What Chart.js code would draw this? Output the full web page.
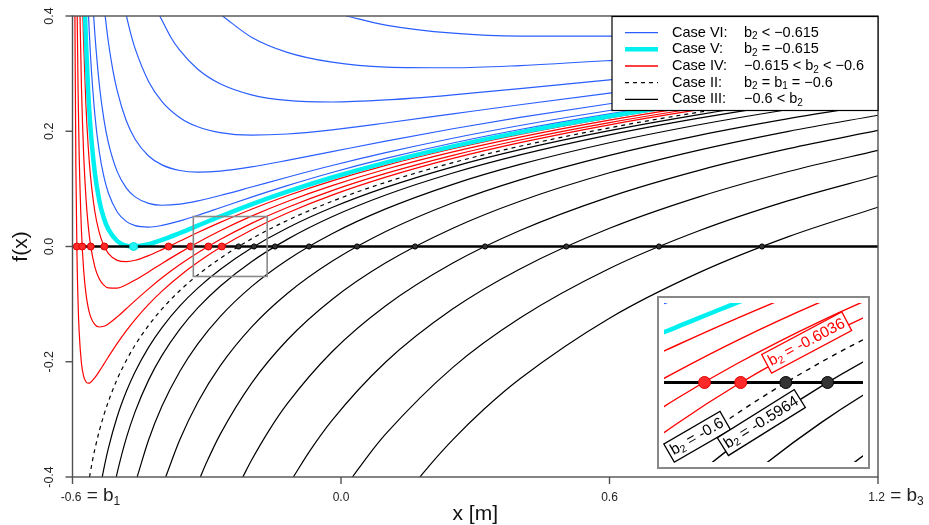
<!DOCTYPE html>
<html><head><meta charset="utf-8">
<script src="https://cdn.jsdelivr.net/npm/chart.js@4.4.1/dist/chart.umd.min.js"></script>
<style>
html,body{margin:0;padding:0;background:#fff;}
#wrap{position:relative;width:929px;height:525px;overflow:hidden;}
#main{position:absolute;left:0;top:0;}
#inset{position:absolute;left:657px;top:296px;}
</style></head><body>
<div id="wrap"><canvas id="main" width="929" height="525"></canvas><canvas id="inset" width="213" height="173"></canvas></div>
<script>
// ---------------- data ----------------
const xTicks = [-0.6, 0.0, 0.6, 1.2];
const yTicks = [-0.4, -0.2, 0.0, 0.2, 0.4];
const yTickLabels = ['-0.4', '-0.2', '0.0', '0.2', '0.4'];

// Case VI (b2 < -0.615), blue
const blueA = [[-0.5642,0.4],[-0.56,0.3341],[-0.55,0.2283],[-0.54,0.1636],[-0.53,0.1216],[-0.52,0.0932],[-0.5,0.0599],[-0.48,0.0436],[-0.46,0.0361],[-0.43,0.0336],[-0.4,0.0366],[-0.36,0.0444],[-0.32,0.0542],[-0.27,0.0673],[-0.2,0.0857],[-0.12,0.1056],[-0.02,0.1284],[0.1,0.1528],[0.25,0.1796],[0.4,0.203],[0.6,0.2302],[0.8,0.2538],[1.0,0.2746],[1.2,0.2933]];
const blueB = [[-0.5527,0.4],[-0.55,0.3683],[-0.54,0.2803],[-0.53,0.2216],[-0.52,0.1807],[-0.5,0.1299],[-0.48,0.1019],[-0.46,0.0861],[-0.43,0.0748],[-0.4,0.0716],[-0.36,0.0736],[-0.32,0.0792],[-0.27,0.0885],[-0.2,0.1032],[-0.12,0.1202],[-0.02,0.1405],[0.1,0.1628],[0.25,0.1879],[0.4,0.21],[0.6,0.236],[0.8,0.2588],[1.0,0.279],[1.2,0.2972]];
const blueC = [[-0.527,0.4],[-0.52,0.3557],[-0.51,0.307],[-0.5,0.2699],[-0.48,0.2186],[-0.46,0.1861],[-0.43,0.1571],[-0.4,0.1416],[-0.36,0.1319],[-0.32,0.1292],[-0.27,0.1309],[-0.2,0.1382],[-0.12,0.1494],[-0.02,0.1646],[0.1,0.1828],[0.25,0.2043],[0.4,0.224],[0.6,0.2477],[0.8,0.2688],[1.0,0.2878],[1.2,0.305]];
const blueD = [[-0.4795,0.4],[-0.47,0.3698],[-0.46,0.3433],[-0.43,0.2865],[-0.4,0.2516],[-0.36,0.2236],[-0.32,0.2077],[-0.27,0.1976],[-0.2,0.1932],[-0.12,0.1952],[-0.02,0.2025],[0.1,0.2143],[0.25,0.2302],[0.4,0.246],[0.6,0.266],[0.8,0.2845],[1.0,0.3015],[1.2,0.3172]];
const blueE = [[-0.405,0.4],[-0.38,0.3628],[-0.36,0.3403],[-0.32,0.3077],[-0.27,0.2824],[-0.2,0.2632],[-0.12,0.2535],[-0.02,0.2508],[0.1,0.2543],[0.25,0.2631],[0.4,0.274],[0.6,0.2893],[0.8,0.3045],[1.0,0.319],[1.2,0.3328]];
const blueF = [[-0.265,0.4],[-0.2,0.3632],[-0.12,0.3369],[-0.02,0.3198],[0.1,0.3114],[0.25,0.3102],[0.4,0.314],[0.6,0.3227],[0.8,0.3331],[1.0,0.344],[1.2,0.355]];
const blueG = [[0.0118,0.4],[0.1,0.3843],[0.25,0.3702],[0.4,0.365],[0.6,0.3652],[0.8,0.3695],[1.0,0.3759],[1.2,0.3833]];

// Case V (b2 = -0.615), cyan
const cyanV = [[-0.5719,0.4],[-0.57,0.3569],[-0.565,0.27],[-0.56,0.2079],[-0.55,0.1273],[-0.54,0.0795],[-0.53,0.0494],[-0.52,0.0301],[-0.5,0.0094],[-0.48,0.0015],[-0.4635,0],[-0.46,0.0001],[-0.43,0.0039],[-0.4,0.0114],[-0.36,0.0234],[-0.32,0.0361],[-0.27,0.052],[-0.2,0.0731],[-0.12,0.0951],[-0.02,0.1197],[0.1,0.1456],[0.25,0.1737],[0.4,0.198],[0.6,0.226],[0.8,0.2502],[1.0,0.2715],[1.2,0.2905]];

// Case IV (-0.615 < b2 < -0.6), red
const red1 = [[-0.5946,0.4],[-0.5925,0.142],[-0.59,-0.0142],[-0.5875,-0.099],[-0.585,-0.1497],[-0.58,-0.2025],[-0.575,-0.2254],[-0.57,-0.2347],[-0.565,-0.2372],[-0.56,-0.2359],[-0.55,-0.2277],[-0.54,-0.2164],[-0.53,-0.2041],[-0.52,-0.1918],[-0.5,-0.1681],[-0.48,-0.1464],[-0.46,-0.1267],[-0.43,-0.1005],[-0.4,-0.0774],[-0.36,-0.0506],[-0.32,-0.0273],[-0.27,-0.0018],[-0.2,0.0287],[-0.12,0.0581],[-0.02,0.0891],[0.1,0.1203],[0.25,0.1528],[0.4,0.1802],[0.6,0.2112],[0.8,0.2375],[1.0,0.2604],[1.2,0.2806]];
const red2 = [[-0.5895,0.4],[-0.5875,0.269],[-0.585,0.157],[-0.58,0.0275],[-0.575,-0.0414],[-0.57,-0.0814],[-0.565,-0.1057],[-0.56,-0.1209],[-0.55,-0.1357],[-0.54,-0.1397],[-0.53,-0.1384],[-0.52,-0.1343],[-0.5,-0.1221],[-0.48,-0.1081],[-0.46,-0.0939],[-0.43,-0.0735],[-0.4,-0.0544],[-0.36,-0.0314],[-0.32,-0.0108],[-0.27,0.0121],[-0.2,0.0402],[-0.12,0.0677],[-0.02,0.097],[0.1,0.1268],[0.25,0.1582],[0.4,0.1848],[0.6,0.215],[0.8,0.2408],[1.0,0.2633],[1.2,0.2832]];
const red3 = [[-0.5832,0.4],[-0.58,0.2775],[-0.575,0.1586],[-0.57,0.0853],[-0.565,0.0371],[-0.56,0.0041],[-0.55,-0.0357],[-0.54,-0.0564],[-0.53,-0.067],[-0.52,-0.0718],[-0.5,-0.0721],[-0.48,-0.0664],[-0.46,-0.0581],[-0.43,-0.0441],[-0.4,-0.0294],[-0.36,-0.0106],[-0.32,0.007],[-0.27,0.0273],[-0.2,0.0527],[-0.12,0.0781],[-0.02,0.1056],[0.1,0.134],[0.25,0.1641],[0.4,0.1898],[0.6,0.2192],[0.8,0.2444],[1.0,0.2664],[1.2,0.286]];
const red4 = [[-0.5768,0.4],[-0.575,0.3506],[-0.57,0.2453],[-0.565,0.1743],[-0.56,0.1241],[-0.55,0.0603],[-0.54,0.0236],[-0.53,0.0016],[-0.52,-0.0118],[-0.5,-0.0241],[-0.48,-0.0264],[-0.46,-0.0239],[-0.43,-0.0158],[-0.4,-0.0054],[-0.36,0.0094],[-0.32,0.0242],[-0.27,0.0418],[-0.2,0.0647],[-0.12,0.0881],[-0.02,0.1139],[0.1,0.1408],[0.25,0.1697],[0.4,0.1946],[0.6,0.2232],[0.8,0.2478],[1.0,0.2694],[1.2,0.2886]];

// Case II (b2 = b1 = -0.6), dashed
const dashedII = [[-0.562,-0.4],[-0.555,-0.3702],[-0.55,-0.3517],[-0.54,-0.3197],[-0.53,-0.2927],[-0.52,-0.2693],[-0.5,-0.2301],[-0.48,-0.1981],[-0.46,-0.171],[-0.43,-0.137],[-0.4,-0.1084],[-0.36,-0.0764],[-0.32,-0.0494],[-0.27,-0.0206],[-0.2,0.0132],[-0.12,0.0452],[-0.02,0.0784],[0.1,0.1114],[0.25,0.1455],[0.4,0.174],[0.6,0.206],[0.8,0.2331],[1.0,0.2565],[1.2,0.2772]];

// Case III (-0.6 < b2), black
const black1 = [[-0.5335,-0.4],[-0.53,-0.3858],[-0.52,-0.3507],[-0.5,-0.2951],[-0.48,-0.2522],[-0.46,-0.2173],[-0.43,-0.175],[-0.4,-0.1407],[-0.36,-0.1032],[-0.32,-0.0723],[-0.27,-0.04],[-0.2,-0.0027],[-0.12,0.0321],[-0.02,0.0676],[0.1,0.1025],[0.25,0.1383],[0.4,0.168],[0.6,0.201],[0.8,0.2289],[1.0,0.2529],[1.2,0.2741]];
const black2 = [[-0.5022,-0.4],[-0.5,-0.3923],[-0.48,-0.3331],[-0.46,-0.2865],[-0.43,-0.2319],[-0.4,-0.1889],[-0.36,-0.1433],[-0.32,-0.1065],[-0.27,-0.0689],[-0.2,-0.0264],[-0.12,0.0124],[-0.02,0.0515],[0.1,0.0893],[0.25,0.1275],[0.4,0.1589],[0.6,0.1937],[0.8,0.2227],[1.0,0.2476],[1.2,0.2694]];
const black3 = [[-0.4556,-0.4],[-0.43,-0.3357],[-0.4,-0.2769],[-0.36,-0.2164],[-0.32,-0.169],[-0.27,-0.1216],[-0.2,-0.0697],[-0.12,-0.0234],[-0.02,0.0221],[0.1,0.0652],[0.25,0.1079],[0.4,0.1424],[0.6,0.1801],[0.8,0.2113],[1.0,0.2378],[1.2,0.2609]];
const black4 = [[-0.3918,-0.4],[-0.36,-0.335],[-0.32,-0.2703],[-0.27,-0.2073],[-0.2,-0.14],[-0.12,-0.0816],[-0.02,-0.0257],[0.1,0.026],[0.25,0.076],[0.4,0.1157],[0.6,0.1582],[0.8,0.1929],[1.0,0.2219],[1.2,0.247]];
const black5 = [[-0.3144,-0.4],[-0.3,-0.3741],[-0.27,-0.326],[-0.2,-0.2374],[-0.12,-0.1622],[-0.02,-0.0919],[0.1,-0.0283],[0.25,0.0318],[0.4,0.0786],[0.6,0.1279],[0.8,0.1673],[1.0,0.1999],[1.2,0.2278]];
const black6 = [[-0.2195,-0.4],[-0.2,-0.371],[-0.16,-0.3182],[-0.12,-0.2728],[-0.02,-0.1827],[0.1,-0.1028],[0.25,-0.0287],[0.4,0.0278],[0.6,0.0862],[0.8,0.1322],[1.0,0.1697],[1.2,0.2014]];
const black7 = [[-0.1065,-0.4],[-0.07,-0.3551],[-0.02,-0.3017],[0.1,-0.2005],[0.25,-0.1082],[0.4,-0.0389],[0.6,0.0316],[0.8,0.0862],[1.0,0.1302],[1.2,0.1669]];
const black8 = [[0.0256,-0.4],[0.06,-0.3636],[0.1,-0.3253],[0.25,-0.2097],[0.4,-0.1241],[0.6,-0.0382],[0.8,0.0273],[1.0,0.0796],[1.2,0.1228]];
const black9 = [[0.1765,-0.4],[0.2,-0.378],[0.25,-0.3352],[0.32,-0.2821],[0.4,-0.2295],[0.6,-0.1245],[0.8,-0.0454],[1.0,0.0171],[1.2,0.0682]];

// zeros of f (dots on the x axis)
const redZeros = [-0.5903,-0.5783,-0.5592,-0.5288,-0.3854,-0.336,-0.2964,-0.2664];
const cyanZeros = [-0.4635];
const blackZeros = [-0.229,-0.1944,-0.1475,-0.0715,0.0358,0.1654,0.3218,0.5034,0.7106,0.9408];

const blueCurves = [blueA, blueB, blueC, blueD, blueE, blueF, blueG];
const redCurves = [red1, red2, red3, red4];
const blackCurves = [black1, black2, black3, black4, black5, black6, black7, black8, black9];

// zoom window shown in the inset
const zoomBox = {xMin: -0.33, xMax: -0.165, yMin: -0.052, yMax: 0.052};
// inset annotations
const insetLabels = [
  {b2: '-0.6036', x: -0.2117, y: 0.0262, color: '#ff0000', angle: -28},
  {b2: '-0.6', x: -0.3025, y: -0.0355, color: '#000000', angle: -30},
  {b2: '-0.5964', x: -0.2493, y: -0.0262, color: '#000000', angle: -32}
];

// ---------------- drawing ----------------
const FONT = '"Liberation Sans", Arial, Helvetica, sans-serif';
const BLUE = '#2a5eff', RED = '#ff0000', CYAN = '#00f0f0';

const pts = arr => arr.map(p => ({x: p[0], y: p[1]}));
const zeroPts = arr => arr.map(v => ({x: v, y: 0}));

function buildDatasets(s) {
  const ds = [];
  const line = (arr, color, w, order, dash) => ds.push({
    data: pts(arr), borderColor: color, borderWidth: w, borderDash: dash || [],
    pointRadius: 0, showLine: true, fill: false, order: order,
    cubicInterpolationMode: 'monotone'
  });
  const dots = (arr, fillC, edgeC, r) => ds.push({
    data: zeroPts(arr), showLine: false, pointRadius: r, pointBackgroundColor: fillC,
    pointBorderColor: edgeC, pointBorderWidth: 1, order: 0
  });
  dots(blackZeros, '#333', '#000', s.rb);
  dots(redZeros, '#ff2a2a', '#e00000', s.rr);
  dots(cyanZeros, '#22f4f4', '#00dede', s.rc);
  ds.push({data: [{x: -0.6, y: 0}, {x: 1.2, y: 0}], borderColor: '#000', borderWidth: s.zw,
    pointRadius: 0, showLine: true, order: 1});
  line(cyanV, CYAN, s.cw, 2);
  redCurves.forEach(c => line(c, RED, s.lw, 3));
  blueCurves.forEach(c => line(c, BLUE, s.lw, 4));
  line(dashedII, '#000', s.lw, 5, s.dash);
  blackCurves.forEach(c => line(c, '#000', s.lw, 6));
  return ds;
}

function drawParts(ctx, parts, x, y) {
  // parts: [text, fontSize, dy]
  let cx = x;
  parts.forEach(p => {
    ctx.font = p[1] + 'px ' + FONT;
    ctx.fillText(p[0], cx, y + (p[2] || 0));
    cx += ctx.measureText(p[0]).width;
  });
  return cx - x;
}
function partsWidth(ctx, parts) {
  let w = 0;
  parts.forEach(p => { ctx.font = p[1] + 'px ' + FONT; w += ctx.measureText(p[0]).width; });
  return w;
}

const xTickParts = [
  [['-0.6', 12], [' = b', 19], ['1', 12, 4]],
  [['0.0', 12]],
  [['0.6', 12]],
  [['1.2', 12], [' = b', 19], ['3', 12, 4]]
];
const xTickShift = [18, 0, 0, 18];

const legendRows = [
  {color: BLUE, w: 1.3, dash: [], name: 'Case VI:', cond: [['b', 14.5], ['2', 10, 4], [' < \u22120.615', 14.5]]},
  {color: CYAN, w: 4.5, dash: [], name: 'Case V:', cond: [['b', 14.5], ['2', 10, 4], [' = \u22120.615', 14.5]]},
  {color: RED, w: 1.3, dash: [], name: 'Case IV:', cond: [['\u22120.615 < b', 14.5], ['2', 10, 4], [' < \u22120.6', 14.5]]},
  {color: '#000', w: 1.2, dash: [4, 4], name: 'Case II:', cond: [['b', 14.5], ['2', 10, 4], [' = b', 14.5], ['1', 10, 4], [' = \u22120.6', 14.5]]},
  {color: '#000', w: 1.2, dash: [], name: 'Case III:', cond: [['\u22120.6 < b', 14.5], ['2', 10, 4]]}
];

const mainDeco = {
  id: 'mainDeco',
  beforeDraw(chart) {
    const c = chart.ctx; c.save(); c.fillStyle = '#fff'; c.fillRect(0, 0, chart.width, chart.height); c.restore();
  },
  afterDraw(chart) {
    const ctx = chart.ctx, a = chart.chartArea, xs = chart.scales.x, ys = chart.scales.y;
    ctx.save();
    // zoom rectangle
    const zx1 = xs.getPixelForValue(zoomBox.xMin), zx2 = xs.getPixelForValue(zoomBox.xMax);
    const zy1 = ys.getPixelForValue(zoomBox.yMax), zy2 = ys.getPixelForValue(zoomBox.yMin);
    ctx.strokeStyle = '#8a8a8a'; ctx.lineWidth = 1.6;
    ctx.strokeRect(zx1, zy1, zx2 - zx1, zy2 - zy1);
    // frame
    ctx.strokeStyle = '#505050'; ctx.lineWidth = 1.4;
    ctx.strokeRect(a.left, a.top, a.right - a.left, a.bottom - a.top);
    // y axis
    ctx.fillStyle = '#222'; ctx.textAlign = 'center'; ctx.textBaseline = 'middle';
    ctx.font = '12.5px ' + FONT;
    yTicks.forEach((v, i) => {
      const py = ys.getPixelForValue(v);
      ctx.beginPath(); ctx.moveTo(a.left, py); ctx.lineTo(a.left - 7, py); ctx.stroke();
      ctx.save(); ctx.translate(a.left - 23, py); ctx.rotate(-Math.PI / 2);
      ctx.fillText(yTickLabels[i], 0, 0); ctx.restore();
    });
    // x axis
    ctx.textAlign = 'left'; ctx.textBaseline = 'alphabetic';
    xTicks.forEach((v, i) => {
      const px = xs.getPixelForValue(v);
      ctx.beginPath(); ctx.moveTo(px, a.bottom); ctx.lineTo(px, a.bottom + 7); ctx.stroke();
      const w = partsWidth(ctx, xTickParts[i]);
      drawParts(ctx, xTickParts[i], px - w / 2 + xTickShift[i], a.bottom + 24);
    });
    // titles
    ctx.textAlign = 'center'; ctx.textBaseline = 'middle';
    ctx.font = '21px ' + FONT; ctx.fillStyle = '#111';
    ctx.fillText('x [m]', (a.left + a.right) / 2, a.bottom + 37);
    ctx.save(); ctx.translate(21, (a.top + a.bottom) / 2); ctx.rotate(-Math.PI / 2);
    ctx.fillText('f(x)', 0, 0); ctx.restore();
    // legend
    const lx = 612, ly = a.top + 0.5, lw = a.right - 612, lh = 94;
    ctx.fillStyle = '#fff'; ctx.fillRect(lx, ly, lw, lh);
    ctx.strokeStyle = '#000'; ctx.lineWidth = 1.2; ctx.strokeRect(lx, ly, lw, lh);
    ctx.textAlign = 'left'; ctx.textBaseline = 'middle';
    legendRows.forEach((r, i) => {
      const ry = 32.7 + i * 16.65;
      ctx.strokeStyle = r.color; ctx.lineWidth = r.w; ctx.setLineDash(r.dash);
      ctx.beginPath(); ctx.moveTo(625, ry); ctx.lineTo(658, ry); ctx.stroke();
      ctx.setLineDash([]);
      ctx.fillStyle = '#000';
      drawParts(ctx, [[r.name, 14.5]], 672, ry);
      drawParts(ctx, r.cond, 744, ry);
    });
    ctx.restore();
  }
};

new Chart(document.getElementById('main'), {
  type: 'line',
  data: {datasets: buildDatasets({lw: 1.2, cw: 4.5, zw: 2.6, dash: [4, 4], rb: 2.6, rr: 3.5, rc: 4})},
  options: {
    responsive: false, animation: false, devicePixelRatio: 1, events: [],
    layout: {padding: {left: 72.5, right: 51, top: 16, bottom: 48}},
    plugins: {legend: {display: false}, tooltip: {enabled: false}},
    scales: {
      x: {type: 'linear', min: -0.6, max: 1.2, display: false},
      y: {type: 'linear', min: -0.4, max: 0.4, display: false}
    }
  },
  plugins: [mainDeco]
});

const insetDeco = {
  id: 'insetDeco',
  beforeDraw(chart) {
    const c = chart.ctx; c.save(); c.fillStyle = '#fff'; c.fillRect(0, 0, chart.width, chart.height); c.restore();
  },
  afterDraw(chart) {
    const ctx = chart.ctx, xs = chart.scales.x, ys = chart.scales.y;
    ctx.save();
    insetLabels.forEach(l => {
      const px = xs.getPixelForValue(l.x), py = ys.getPixelForValue(l.y);
      const parts = [['b', 15.5], ['2', 10.5, 4], [' = ' + l.b2, 15.5]];
      const w = partsWidth(ctx, parts);
      ctx.save(); ctx.translate(px, py); ctx.rotate(l.angle * Math.PI / 180);
      ctx.fillStyle = '#fff'; ctx.strokeStyle = l.color; ctx.lineWidth = 1.3;
      ctx.fillRect(-w / 2 - 3, -10.5, w + 6, 21); ctx.strokeRect(-w / 2 - 3, -10.5, w + 6, 21);
      ctx.fillStyle = l.color; ctx.textAlign = 'left'; ctx.textBaseline = 'middle';
      drawParts(ctx, parts, -w / 2, 0);
      ctx.restore();
    });
    ctx.strokeStyle = '#888'; ctx.lineWidth = 2;
    ctx.strokeRect(1, 1, chart.width - 2, chart.height - 2);
    ctx.restore();
  }
};

new Chart(document.getElementById('inset'), {
  type: 'line',
  data: {datasets: buildDatasets({lw: 1.4, cw: 4.5, zw: 3, dash: [5, 5], rb: 6, rr: 6, rc: 6})},
  options: {
    responsive: false, animation: false, devicePixelRatio: 1, events: [],
    layout: {padding: 0},
    plugins: {legend: {display: false}, tooltip: {enabled: false}},
    scales: {
      x: {type: 'linear', min: zoomBox.xMin, max: zoomBox.xMax, display: false},
      y: {type: 'linear', min: zoomBox.yMin, max: zoomBox.yMax, display: false}
    }
  },
  plugins: [insetDeco]
});
</script>
</body></html>
